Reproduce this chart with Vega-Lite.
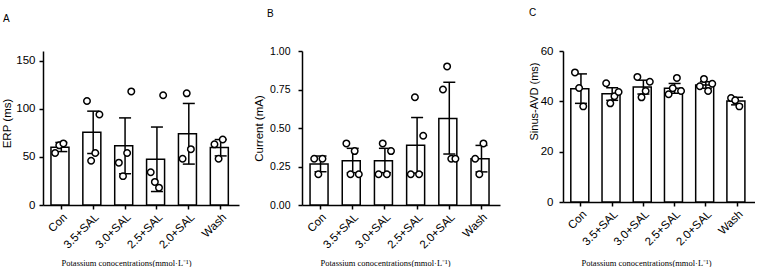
{
  "$schema": "https://vega.github.io/schema/vega-lite/v6.json",
  "padding": {"left": 1, "top": 8, "right": 0, "bottom": 0},
  "bounds": "flush",
  "spacing": 63,
  "config": {
    "font": "Liberation Sans",
    "view": {"stroke": null},
    "axis": {
      "grid": false,
      "domainColor": "black",
      "domainWidth": 1.5,
      "tickColor": "black",
      "tickWidth": 1.5,
      "tickSize": 4,
      "labelColor": "black",
      "labelFont": "Liberation Sans",
      "labelFontSize": 11.5,
      "labelPadding": 2,
      "labelOverlap": false,
      "titleColor": "black",
      "titleFont": "Liberation Sans",
      "titleFontSize": 11.5,
      "titleFontWeight": "normal"
    },
    "axisX": {
      "labelAngle": -45,
      "labelFontSize": 11.5,
      "titleFont": "Liberation Serif",
      "titleFontSize": 8.5,
      "titleBaseline": "alphabetic",
      "titleY": 60,
      "titleX": 83
    },
    "axisY": {"titlePadding": 3},
    "title": {"font": "Liberation Sans", "fontSize": 10, "fontWeight": "normal", "color": "black", "anchor": "start", "frame": "group"}
  },
  "datasets": {
    "bars": [
      {"panel": "A", "group": "Con", "mean": 60, "lo": 55.5, "hi": 65},
      {"panel": "A", "group": "3.5+SAL", "mean": 75.5, "lo": 53.5, "hi": 97.5},
      {"panel": "A", "group": "3.0+SAL", "mean": 61.5, "lo": 32.5, "hi": 90.5},
      {"panel": "A", "group": "2.5+SAL", "mean": 47.5, "lo": 14, "hi": 81},
      {"panel": "A", "group": "2.0+SAL", "mean": 74, "lo": 42.5, "hi": 105.5},
      {"panel": "A", "group": "Wash", "mean": 59.7, "lo": 51, "hi": 68},
      {"panel": "B", "group": "Con", "mean": 0.267, "lo": 0.216, "hi": 0.318},
      {"panel": "B", "group": "3.5+SAL", "mean": 0.2875, "lo": 0.21, "hi": 0.368},
      {"panel": "B", "group": "3.0+SAL", "mean": 0.2875, "lo": 0.21, "hi": 0.368},
      {"panel": "B", "group": "2.5+SAL", "mean": 0.3875, "lo": 0.207, "hi": 0.568},
      {"panel": "B", "group": "2.0+SAL", "mean": 0.5625, "lo": 0.331, "hi": 0.797},
      {"panel": "B", "group": "Wash", "mean": 0.3, "lo": 0.215, "hi": 0.387},
      {"panel": "C", "group": "Con", "mean": 45, "lo": 39.2, "hi": 50.9},
      {"panel": "C", "group": "3.5+SAL", "mean": 43, "lo": 40.4, "hi": 45.4},
      {"panel": "C", "group": "3.0+SAL", "mean": 45.7, "lo": 42.9, "hi": 48.4},
      {"panel": "C", "group": "2.5+SAL", "mean": 45.2, "lo": 43.2, "hi": 47.1},
      {"panel": "C", "group": "2.0+SAL", "mean": 46.5, "lo": 45.2, "hi": 47.8},
      {"panel": "C", "group": "Wash", "mean": 40.1, "lo": 38.6, "hi": 41.6}
    ],
    "points": [
      {"panel": "A", "group": "Con", "rep": 1, "value": 54},
      {"panel": "A", "group": "Con", "rep": 2, "value": 62},
      {"panel": "A", "group": "Con", "rep": 3, "value": 64},
      {"panel": "A", "group": "3.5+SAL", "rep": 1, "value": 108},
      {"panel": "A", "group": "3.5+SAL", "rep": 2, "value": 46},
      {"panel": "A", "group": "3.5+SAL", "rep": 3, "value": 54},
      {"panel": "A", "group": "3.5+SAL", "rep": 4, "value": 94},
      {"panel": "A", "group": "3.0+SAL", "rep": 1, "value": 44},
      {"panel": "A", "group": "3.0+SAL", "rep": 2, "value": 30},
      {"panel": "A", "group": "3.0+SAL", "rep": 3, "value": 54},
      {"panel": "A", "group": "3.0+SAL", "rep": 4, "value": 118},
      {"panel": "A", "group": "2.5+SAL", "rep": 1, "value": 34},
      {"panel": "A", "group": "2.5+SAL", "rep": 2, "value": 24},
      {"panel": "A", "group": "2.5+SAL", "rep": 3, "value": 18},
      {"panel": "A", "group": "2.5+SAL", "rep": 4, "value": 114},
      {"panel": "A", "group": "2.0+SAL", "rep": 1, "value": 48},
      {"panel": "A", "group": "2.0+SAL", "rep": 2, "value": 116},
      {"panel": "A", "group": "2.0+SAL", "rep": 3, "value": 58},
      {"panel": "A", "group": "Wash", "rep": 1, "value": 63},
      {"panel": "A", "group": "Wash", "rep": 2, "value": 48},
      {"panel": "A", "group": "Wash", "rep": 3, "value": 68},
      {"panel": "B", "group": "Con", "rep": 1, "value": 0.3},
      {"panel": "B", "group": "Con", "rep": 2, "value": 0.2},
      {"panel": "B", "group": "Con", "rep": 3, "value": 0.3},
      {"panel": "B", "group": "3.5+SAL", "rep": 1, "value": 0.4},
      {"panel": "B", "group": "3.5+SAL", "rep": 2, "value": 0.2},
      {"panel": "B", "group": "3.5+SAL", "rep": 3, "value": 0.35},
      {"panel": "B", "group": "3.5+SAL", "rep": 4, "value": 0.2},
      {"panel": "B", "group": "3.0+SAL", "rep": 1, "value": 0.2},
      {"panel": "B", "group": "3.0+SAL", "rep": 2, "value": 0.4},
      {"panel": "B", "group": "3.0+SAL", "rep": 3, "value": 0.2},
      {"panel": "B", "group": "3.0+SAL", "rep": 4, "value": 0.35},
      {"panel": "B", "group": "2.5+SAL", "rep": 1, "value": 0.2},
      {"panel": "B", "group": "2.5+SAL", "rep": 2, "value": 0.7},
      {"panel": "B", "group": "2.5+SAL", "rep": 3, "value": 0.2},
      {"panel": "B", "group": "2.5+SAL", "rep": 4, "value": 0.45},
      {"panel": "B", "group": "2.0+SAL", "rep": 1, "value": 0.75},
      {"panel": "B", "group": "2.0+SAL", "rep": 2, "value": 0.9},
      {"panel": "B", "group": "2.0+SAL", "rep": 3, "value": 0.3},
      {"panel": "B", "group": "2.0+SAL", "rep": 4, "value": 0.3},
      {"panel": "B", "group": "Wash", "rep": 1, "value": 0.3},
      {"panel": "B", "group": "Wash", "rep": 2, "value": 0.2},
      {"panel": "B", "group": "Wash", "rep": 3, "value": 0.4},
      {"panel": "C", "group": "Con", "rep": 1, "value": 51.5},
      {"panel": "C", "group": "Con", "rep": 2, "value": 45.3},
      {"panel": "C", "group": "Con", "rep": 3, "value": 38},
      {"panel": "C", "group": "3.5+SAL", "rep": 1, "value": 47.2},
      {"panel": "C", "group": "3.5+SAL", "rep": 2, "value": 39.2},
      {"panel": "C", "group": "3.5+SAL", "rep": 3, "value": 42},
      {"panel": "C", "group": "3.5+SAL", "rep": 4, "value": 43.7},
      {"panel": "C", "group": "3.0+SAL", "rep": 1, "value": 49.7},
      {"panel": "C", "group": "3.0+SAL", "rep": 2, "value": 41.6},
      {"panel": "C", "group": "3.0+SAL", "rep": 3, "value": 44.1},
      {"panel": "C", "group": "3.0+SAL", "rep": 4, "value": 47.8},
      {"panel": "C", "group": "2.5+SAL", "rep": 1, "value": 42.8},
      {"panel": "C", "group": "2.5+SAL", "rep": 2, "value": 45.2},
      {"panel": "C", "group": "2.5+SAL", "rep": 3, "value": 49.3},
      {"panel": "C", "group": "2.5+SAL", "rep": 4, "value": 44.1},
      {"panel": "C", "group": "2.0+SAL", "rep": 1, "value": 46},
      {"panel": "C", "group": "2.0+SAL", "rep": 2, "value": 48.9},
      {"panel": "C", "group": "2.0+SAL", "rep": 3, "value": 44.1},
      {"panel": "C", "group": "2.0+SAL", "rep": 4, "value": 47},
      {"panel": "C", "group": "Wash", "rep": 1, "value": 41.3},
      {"panel": "C", "group": "Wash", "rep": 2, "value": 40.4},
      {"panel": "C", "group": "Wash", "rep": 3, "value": 38}
    ]
  },
  "hconcat": [
    {
      "width": 196,
      "height": 154,
      "title": {"text": "A", "dx": -40, "offset": 27},
      "encoding": {
        "x": {"field": "group", "type": "nominal", "scale": {"domain": ["Con", "3.5+SAL", "3.0+SAL", "2.5+SAL", "2.0+SAL", "Wash"], "paddingInner": 0.35, "paddingOuter": 0.25}, "axis": {"title": "Potassium conocentrations(mmol·L⁻¹)"}}
      },
      "layer": [
        {"data": {"name": "bars"}, "transform": [{"filter": "datum.panel === 'A'"}], "mark": {"type": "bar", "fill": "white", "stroke": "black", "strokeWidth": 1.5},
         "encoding": {"y": {"field": "mean", "type": "quantitative", "scale": {"domain": [0, 150]}, "axis": {"values": [0, 50, 100, 150], "labelOverlap": false, "labelPadding": 4, "titlePadding": 3, "titleY": 72, "title": "ERP (ms)"}}}},
        {"data": {"name": "bars"}, "transform": [{"filter": "datum.panel === 'A'"}], "mark": {"type": "rule", "color": "black", "strokeWidth": 1.5},
         "encoding": {"y": {"field": "lo", "type": "quantitative"}, "y2": {"field": "hi"}}},
        {"data": {"name": "bars"}, "transform": [{"filter": "datum.panel === 'A'"}], "mark": {"type": "tick", "color": "black", "thickness": 1.5, "size": 12, "opacity": 1},
         "encoding": {"y": {"field": "lo", "type": "quantitative"}}},
        {"data": {"name": "bars"}, "transform": [{"filter": "datum.panel === 'A'"}], "mark": {"type": "tick", "color": "black", "thickness": 1.5, "size": 12, "opacity": 1},
         "encoding": {"y": {"field": "hi", "type": "quantitative"}}},
        {"data": {"name": "points"}, "transform": [{"filter": "datum.panel === 'A'"}], "mark": {"type": "circle", "fill": "white", "stroke": "black", "strokeWidth": 1.5, "size": 42, "opacity": 1},
         "encoding": {"y": {"field": "value", "type": "quantitative"}, "xOffset": {"field": "rep", "type": "ordinal", "scale": {"type": "point", "domain": [1, 2, 3, 4], "padding": 1.95}}}}
      ]
    },
    {
      "width": 198,
      "height": 154,
      "title": {"text": "B", "dx": -35, "offset": 27},
      "encoding": {
        "x": {"field": "group", "type": "nominal", "scale": {"domain": ["Con", "3.5+SAL", "3.0+SAL", "2.5+SAL", "2.0+SAL", "Wash"], "paddingInner": 0.35, "paddingOuter": 0.25}, "axis": {"title": "Potassium conocentrations(mmol·L⁻¹)"}}
      },
      "layer": [
        {"data": {"name": "bars"}, "transform": [{"filter": "datum.panel === 'B'"}], "mark": {"type": "bar", "fill": "white", "stroke": "black", "strokeWidth": 1.5},
         "encoding": {"y": {"field": "mean", "type": "quantitative", "scale": {"domain": [0, 1]}, "axis": {"values": [0, 0.25, 0.5, 0.75, 1], "tickCount": 5, "labelOverlap": false, "format": ".2f", "labelFontSize": 10.5, "labelPadding": 8, "titlePadding": 5, "title": "Current (mA)"}}}},
        {"data": {"name": "bars"}, "transform": [{"filter": "datum.panel === 'B'"}], "mark": {"type": "rule", "color": "black", "strokeWidth": 1.5},
         "encoding": {"y": {"field": "lo", "type": "quantitative"}, "y2": {"field": "hi"}}},
        {"data": {"name": "bars"}, "transform": [{"filter": "datum.panel === 'B'"}], "mark": {"type": "tick", "color": "black", "thickness": 1.5, "size": 12, "opacity": 1},
         "encoding": {"y": {"field": "lo", "type": "quantitative"}}},
        {"data": {"name": "bars"}, "transform": [{"filter": "datum.panel === 'B'"}], "mark": {"type": "tick", "color": "black", "thickness": 1.5, "size": 12, "opacity": 1},
         "encoding": {"y": {"field": "hi", "type": "quantitative"}}},
        {"data": {"name": "points"}, "transform": [{"filter": "datum.panel === 'B'"}], "mark": {"type": "circle", "fill": "white", "stroke": "black", "strokeWidth": 1.5, "size": 42, "opacity": 1},
         "encoding": {"y": {"field": "value", "type": "quantitative"}, "xOffset": {"field": "rep", "type": "ordinal", "scale": {"type": "point", "domain": [1, 2, 3, 4], "padding": 1.95}}}}
      ]
    },
    {
      "width": 192,
      "height": 151,
      "title": {"text": "C", "dx": -34, "offset": 27},
      "encoding": {
        "x": {"field": "group", "type": "nominal", "scale": {"domain": ["Con", "3.5+SAL", "3.0+SAL", "2.5+SAL", "2.0+SAL", "Wash"], "paddingInner": 0.35, "paddingOuter": 0.25}, "axis": {"title": "Potassium conocentrations(mmol·L⁻¹)", "titleY": 63}}
      },
      "layer": [
        {"data": {"name": "bars"}, "transform": [{"filter": "datum.panel === 'C'"}], "mark": {"type": "bar", "fill": "white", "stroke": "black", "strokeWidth": 1.5},
         "encoding": {"y": {"field": "mean", "type": "quantitative", "scale": {"domain": [0, 60]}, "axis": {"values": [0, 20, 40, 60], "labelOverlap": false, "labelPadding": 6, "titlePadding": 1, "titleFontSize": 11, "titleY": 50, "title": "Sinus-AVD (ms)"}}}},
        {"data": {"name": "bars"}, "transform": [{"filter": "datum.panel === 'C'"}], "mark": {"type": "rule", "color": "black", "strokeWidth": 1.5},
         "encoding": {"y": {"field": "lo", "type": "quantitative"}, "y2": {"field": "hi"}}},
        {"data": {"name": "bars"}, "transform": [{"filter": "datum.panel === 'C'"}], "mark": {"type": "tick", "color": "black", "thickness": 1.5, "size": 12, "opacity": 1},
         "encoding": {"y": {"field": "lo", "type": "quantitative"}}},
        {"data": {"name": "bars"}, "transform": [{"filter": "datum.panel === 'C'"}], "mark": {"type": "tick", "color": "black", "thickness": 1.5, "size": 12, "opacity": 1},
         "encoding": {"y": {"field": "hi", "type": "quantitative"}}},
        {"data": {"name": "points"}, "transform": [{"filter": "datum.panel === 'C'"}], "mark": {"type": "circle", "fill": "white", "stroke": "black", "strokeWidth": 1.5, "size": 42, "opacity": 1},
         "encoding": {"y": {"field": "value", "type": "quantitative"}, "xOffset": {"field": "rep", "type": "ordinal", "scale": {"type": "point", "domain": [1, 2, 3, 4], "padding": 1.95}}}}
      ]
    }
  ]
}
